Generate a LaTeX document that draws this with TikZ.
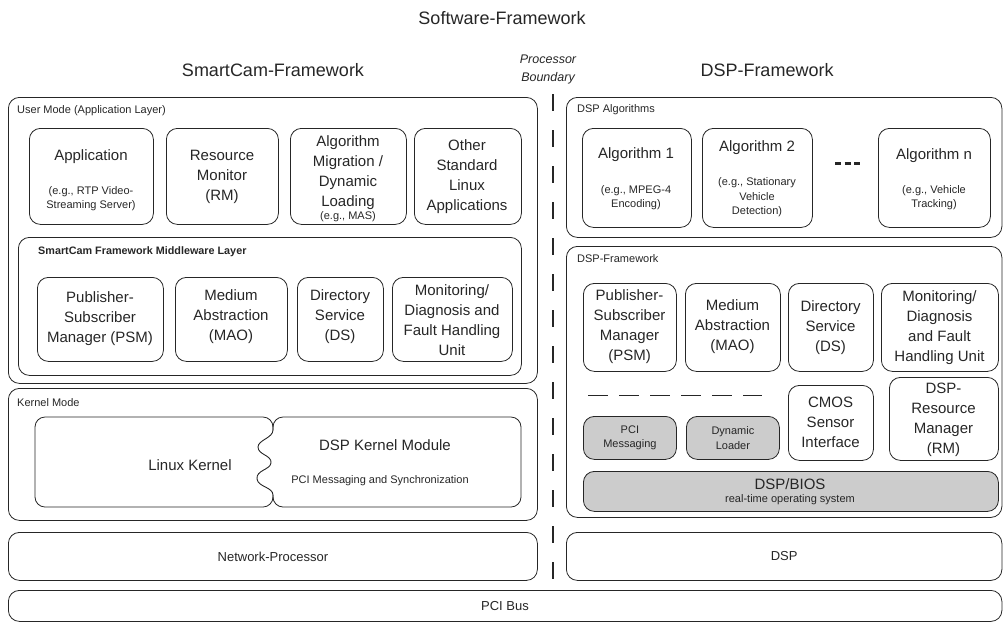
\documentclass[tikz,border=0pt]{standalone}
\usepackage{fontspec}
\setmainfont{Liberation Sans}
\newcommand{\bx}[6][box]{\node[#1, minimum width={#5-#3}, minimum height={#6-#4}] (#2) at (#3,#4) {};}
\begin{document}
\begin{tikzpicture}[x=1pt,y=-1pt,
  box/.style={draw=black!85, line width=0.8pt, rounded corners=11pt, anchor=north west, inner sep=0pt},
  gbox/.style={box, fill=gray!40},
  mt/.style={font=\fontsize{15}{20}\selectfont, align=center, inner sep=0pt, text=black!85},
  st/.style={font=\fontsize{11}{14.5}\selectfont, align=center, inner sep=0pt, text=black!85},
  lbl/.style={font=\fontsize{11}{12}\selectfont, anchor=west, inner sep=0pt, text=black!85},
  big/.style={font=\fontsize{18}{22}\selectfont, inner sep=0pt, text=black!85},
  kline/.style={draw=black!85, line width=0.8pt, rounded corners=10pt}]
\useasboundingbox (0,0) rectangle (1003,622);
% titles
\node[big] (title) at (502,18) {Software-Framework};
\node[big] (scf) at (273,70) {SmartCam-Framework};
\node[big] (dspf) at (767,70) {DSP-Framework};
\node[font=\fontsize{12.5}{18}\selectfont\itshape, align=center, inner sep=0pt, text=black!85] (pb) at (548,69) {Processor\\Boundary};
% boundary
\coordinate (vtop) at (553,94);
\coordinate (vbot) at (553,587);
\draw[black!85, line width=1.1pt, dash pattern=on 17pt off 19pt] (vtop) -- (vbot);
% ---------- left side
\bx{user}{8}{97}{537}{383}
\node[lbl] (userL) at (17,111) {User Mode (Application Layer)};
\bx{app}{29}{128}{153}{224}
\node[mt] (appT) at (91,157) {Application};
\node[st] (appS) at (91,198.5) {(e.g., RTP Video-\\Streaming Server)};
\bx{rm}{166}{128}{278}{224}
\node[mt] (rmT) at (222,177) {Resource\\Monitor\\(RM)};
\bx{am}{290}{128}{406}{224}
\node[mt] (amT) at (348,173) {Algorithm\\Migration /\\Dynamic\\Loading};
\node[st] (amS) at (348,217) {(e.g., MAS)};
\bx{osl}{414}{128}{521}{224}
\node[mt] (oslT) at (467,177) {Other\\Standard\\Linux\\Applications};
\bx{mw}{18}{237}{521}{375}
\node[lbl, font=\fontsize{10.8}{12}\selectfont\bfseries] (mwL) at (38,252) {SmartCam Framework Middleware Layer};
\bx{psm}{37}{277}{163}{361}
\node[mt] (psmT) at (100,319) {Publisher-\\Subscriber\\Manager (PSM)};
\bx{mao}{175}{277}{287}{361}
\node[mt] (maoT) at (231,317) {Medium\\Abstraction\\(MAO)};
\bx{ds}{297}{277}{383}{361}
\node[mt] (dsT) at (340,317) {Directory\\Service\\(DS)};
\bx{mon}{392}{277}{512}{361}
\node[mt] (monT) at (452,320) {Monitoring/\\Diagnosis and\\Fault Handling\\Unit};
% kernel
\bx{kern}{8}{388}{537}{520}
\node[lbl] (kernL) at (17,403) {Kernel Mode};
\coordinate (w1) at (273,430);
\coordinate (w2) at (273,495);
\draw[kline] (w1) -- (273,417) -- (35,417) -- (35,507) -- (273,507) -- (w2);
\draw[kline] (w1) -- (273,417) -- (521,417) -- (521,507) -- (273,507) -- (w2);
\draw[black!85, line width=0.9pt] (w1) .. controls (273,438) and (258,440) .. (258,447) .. controls (258,455) and (272,455) .. (271,463) .. controls (270,470) and (256,470) .. (257,479) .. controls (258,487) and (273,487) .. (w2);
\node[mt] (lkT) at (190,465) {Linux Kernel};
\node[mt] (dkmT) at (385,445) {DSP Kernel Module};
\node[st] (dkmS) at (380,481) {PCI Messaging and Synchronization};
% processors
\bx{np}{8}{532}{537}{580}
\node[st, font=\fontsize{13}{14}\selectfont] (npT) at (np.center) {Network-Processor};
\bx{dsp}{566}{532}{1001.5}{580}
\node[st, font=\fontsize{13}{14}\selectfont] (dspT) at (dsp.center) {DSP};
\bx{pci}{8}{590}{1001.5}{621}
\node[st, font=\fontsize{13}{14}\selectfont] (pciT) at (505,606) {PCI Bus};
% ---------- right side
\bx{alg}{566}{97}{1001.5}{237}
\node[lbl] (algL) at (577,110) {DSP Algorithms};
\bx{a1}{582}{128}{691}{227}
\node[mt] (a1T) at (636,155) {Algorithm 1};
\node[st] (a1S) at (636,197.5) {(e.g., MPEG-4\\Encoding)};
\bx{a2}{702}{128}{812}{227}
\node[mt] (a2T) at (757,148) {Algorithm 2};
\node[st] (a2S) at (757,197.5) {(e.g., Stationary\\Vehicle\\Detection)};
\coordinate (d1) at (835,163);
\coordinate (d2) at (861,163);
\draw[black!85, line width=3pt, dash pattern=on 6pt off 3.5pt] (d1) -- (d2);
\bx{an}{878}{128}{990}{227}
\node[mt] (anT) at (934,156) {Algorithm n};
\node[st] (anS) at (934,197.5) {(e.g., Vehicle\\Tracking)};
\bx{dfw}{566}{246}{1001.5}{517}
\node[lbl] (dfwL) at (577,259) {DSP-Framework};
\bx{dpsm}{583}{283}{676}{371}
\node[mt] (dpsmT) at (629.5,327) {Publisher-\\Subscriber\\Manager\\(PSM)};
\bx{dmao}{685}{283}{780}{371}
\node[mt] (dmaoT) at (732.5,327) {Medium\\Abstraction\\(MAO)};
\bx{dds}{788}{283}{873}{371}
\node[mt] (ddsT) at (830.5,328) {Directory\\Service\\(DS)};
\bx{dmon}{881}{283}{998}{371}
\node[mt] (dmonT) at (939.5,328) {Monitoring/\\Diagnosis\\and Fault\\Handling Unit};
\coordinate (dl1) at (588,395);
\coordinate (dl2) at (762,395);
\draw[black!85, line width=1pt, dash pattern=on 20pt off 11pt] (dl1) -- (dl2);
\bx[gbox]{pcim}{583}{416}{676}{459}
\node[st] (pcimT) at (pcim.center) {PCI\\Messaging};
\bx[gbox]{dynl}{686}{416}{779}{459}
\node[st] (dynlT) at (dynl.center) {Dynamic\\Loader};
\bx{cmos}{788}{385}{873}{460}
\node[mt] (cmosT) at (830.5,422) {CMOS\\Sensor\\Interface};
\bx{drm}{889}{377}{998}{460}
\node[mt] (drmT) at (943.5,420) {DSP-\\Resource\\Manager\\(RM)};
\bx[gbox]{bios}{583}{471}{998}{511}
\node[mt] (biosT) at (790,484) {DSP/BIOS};
\node[st] (biosS) at (790,500) {real-time operating system};
\end{tikzpicture}
\end{document}
